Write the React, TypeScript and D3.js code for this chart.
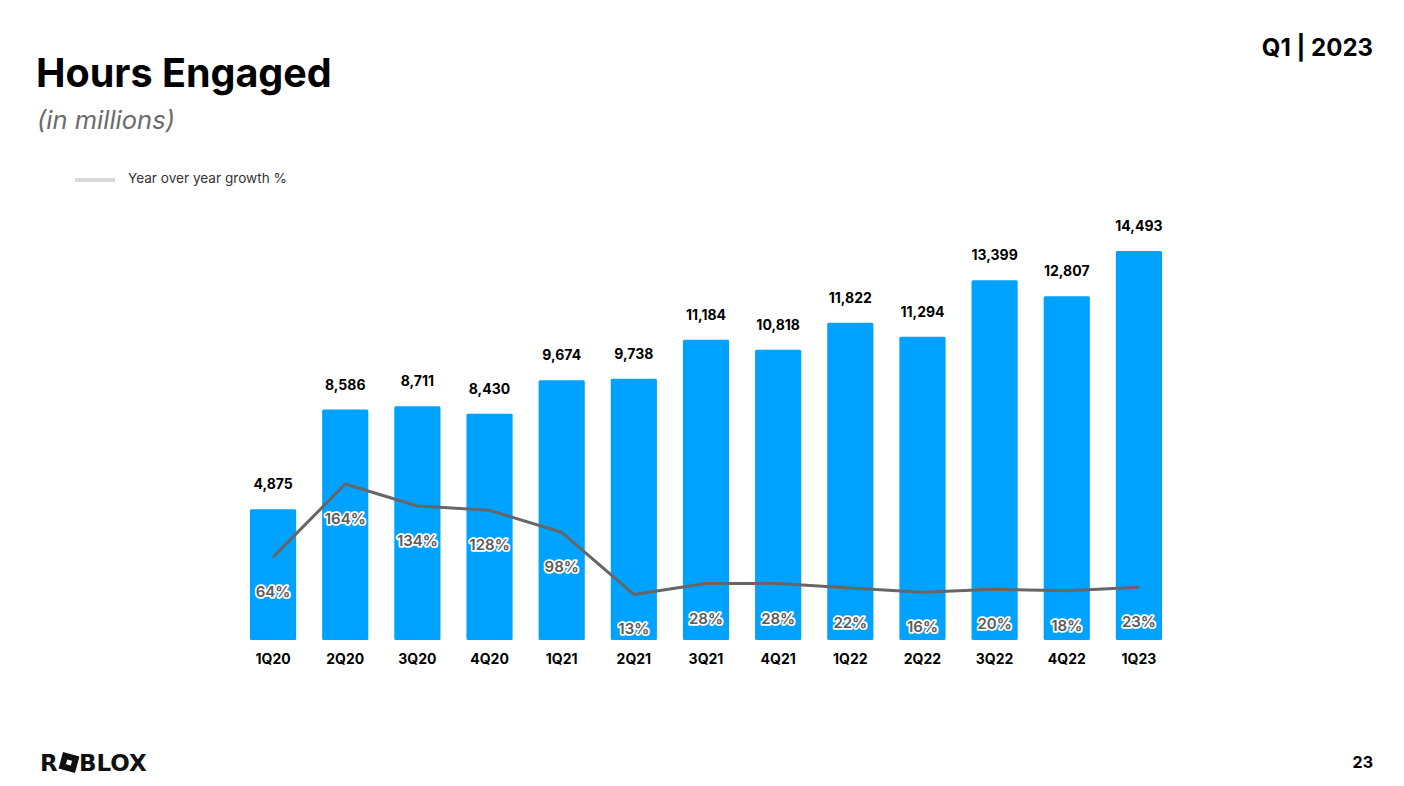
import React, { useEffect, useRef } from 'react';
import * as d3 from 'd3';

// quarters shown on the x axis
const quarters = ['1Q20', '2Q20', '3Q20', '4Q20', '1Q21', '2Q21', '3Q21', '4Q21', '1Q22', '2Q22', '3Q22', '4Q22', '1Q23'];
// hours engaged, in millions
const hours = [4875, 8586, 8711, 8430, 9674, 9738, 11184, 10818, 11822, 11294, 13399, 12807, 14493];
// year over year growth %
const growth = [64, 164, 134, 128, 98, 13, 28, 28, 22, 16, 20, 18, 23];

const W = 1404;
const H = 786;
const FONT = 'Inter, "Noto Sans", sans-serif';

const App: React.FC = () => {
    const svgRef = useRef<SVGSVGElement | null>(null);

    useEffect(() => {
        document.body.style.margin = '0';
        if (!svgRef.current) return;
        const svg = d3.select(svgRef.current);
        svg.selectAll('*').remove();

        const barColor = '#00A2FF';
        const lineColor = '#666666';

        // header
        svg.append('text').attr('x', 36).attr('y', 87)
            .attr('font-family', FONT).attr('font-size', 39.5).attr('font-weight', 700)
            .attr('fill', '#000').text('Hours Engaged');
        svg.append('text').attr('x', 37).attr('y', 129)
            .attr('font-family', FONT).attr('font-size', 25.5).attr('font-style', 'italic')
            .attr('fill', '#6b6b6b').text('(in millions)');
        svg.append('text').attr('x', 1373).attr('y', 56).attr('text-anchor', 'end')
            .attr('font-family', FONT).attr('font-size', 24).attr('font-weight', 700)
            .attr('fill', '#000').text('Q1 | 2023');

        // legend
        svg.append('line').attr('x1', 75).attr('x2', 115).attr('y1', 180).attr('y2', 180)
            .attr('stroke', '#d9d9d9').attr('stroke-width', 4);
        svg.append('text').attr('x', 128).attr('y', 183)
            .attr('font-family', FONT).attr('font-size', 13.6).attr('fill', '#333')
            .text('Year over year growth %');

        // scales
        const x = d3.scaleBand<string>()
            .domain(quarters)
            .range([237, 1175])
            .paddingInner(0.36)
            .paddingOuter(0.18);
        const y = d3.scaleLinear().domain([0, 14493]).range([640, 251]);
        const yg = d3.scaleLinear().domain([0, 164]).range([604, 484]);

        const cx = (q: string) => (x(q) ?? 0) + x.bandwidth() / 2;

        // bars
        svg.append('g').selectAll('rect').data(quarters).enter().append('rect')
            .attr('x', (d) => x(d) ?? 0)
            .attr('y', (_d, i) => y(hours[i]))
            .attr('width', x.bandwidth())
            .attr('height', (_d, i) => y(0) - y(hours[i]))
            .attr('rx', 1.5)
            .attr('fill', barColor);

        // value labels
        svg.append('g').selectAll('text').data(quarters).enter().append('text')
            .attr('x', (d) => cx(d))
            .attr('y', (_d, i) => y(hours[i]) - 20)
            .attr('text-anchor', 'middle')
            .attr('font-family', FONT).attr('font-size', 14).attr('font-weight', 700)
            .attr('fill', '#000')
            .text((_d, i) => d3.format(',')(hours[i]));

        // category labels
        const xAxis = svg.append('g').attr('transform', `translate(0,${y(0)})`)
            .call(d3.axisBottom(x).tickSize(0).tickPadding(14));
        xAxis.select('.domain').remove();
        xAxis.selectAll('text')
            .attr('font-family', FONT).attr('font-size', 14).attr('font-weight', 700)
            .attr('fill', '#000');

        // growth line
        const line = d3.line<number>()
            .x((_d, i) => cx(quarters[i]))
            .y((d) => yg(d));
        svg.append('path').datum(growth)
            .attr('d', line)
            .attr('fill', 'none')
            .attr('stroke', lineColor)
            .attr('stroke-width', 3)
            .attr('stroke-linejoin', 'round');

        // growth labels, outlined
        svg.append('g').selectAll('text').data(growth).enter().append('text')
            .attr('x', (_d, i) => cx(quarters[i]))
            .attr('y', (d) => yg(d) + 40)
            .attr('text-anchor', 'middle')
            .attr('font-family', FONT).attr('font-size', 15).attr('font-weight', 600)
            .attr('fill', '#5a5a5a')
            .attr('stroke', '#ffffff').attr('stroke-width', 3.5)
            .attr('stroke-linejoin', 'round')
            .attr('paint-order', 'stroke')
            .text((d) => `${d}%`);

        // footer: logo and page number
        const logo = svg.append('g').attr('transform', 'translate(40,771)');
        logo.append('text').attr('x', 0).attr('y', 0)
            .attr('font-family', '"DejaVu Sans", sans-serif').attr('font-size', 23).attr('font-weight', 900)
            .attr('fill', '#111').text('R');
        const sq = logo.append('g').attr('transform', 'translate(29,-8.5) rotate(15)');
        sq.append('rect').attr('x', -8.5).attr('y', -8.5).attr('width', 17).attr('height', 17).attr('fill', '#111');
        sq.append('rect').attr('x', -2.5).attr('y', -2.5).attr('width', 5).attr('height', 5).attr('fill', '#fff');
        logo.append('text').attr('x', 39).attr('y', 0)
            .attr('font-family', '"DejaVu Sans", sans-serif').attr('font-size', 23).attr('font-weight', 900)
            .attr('fill', '#111').text('BLOX');

        svg.append('text').attr('x', 1373).attr('y', 768).attr('text-anchor', 'end')
            .attr('font-family', FONT).attr('font-size', 16).attr('font-weight', 700)
            .attr('fill', '#000').text('23');
    }, []);

    return (
        <div style={{ position: 'absolute', left: 0, top: 0, width: W, height: H, background: '#fff' }}>
            <svg ref={svgRef} width={W} height={H} style={{ display: 'block' }}></svg>
        </div>
    );
};

export default App;
